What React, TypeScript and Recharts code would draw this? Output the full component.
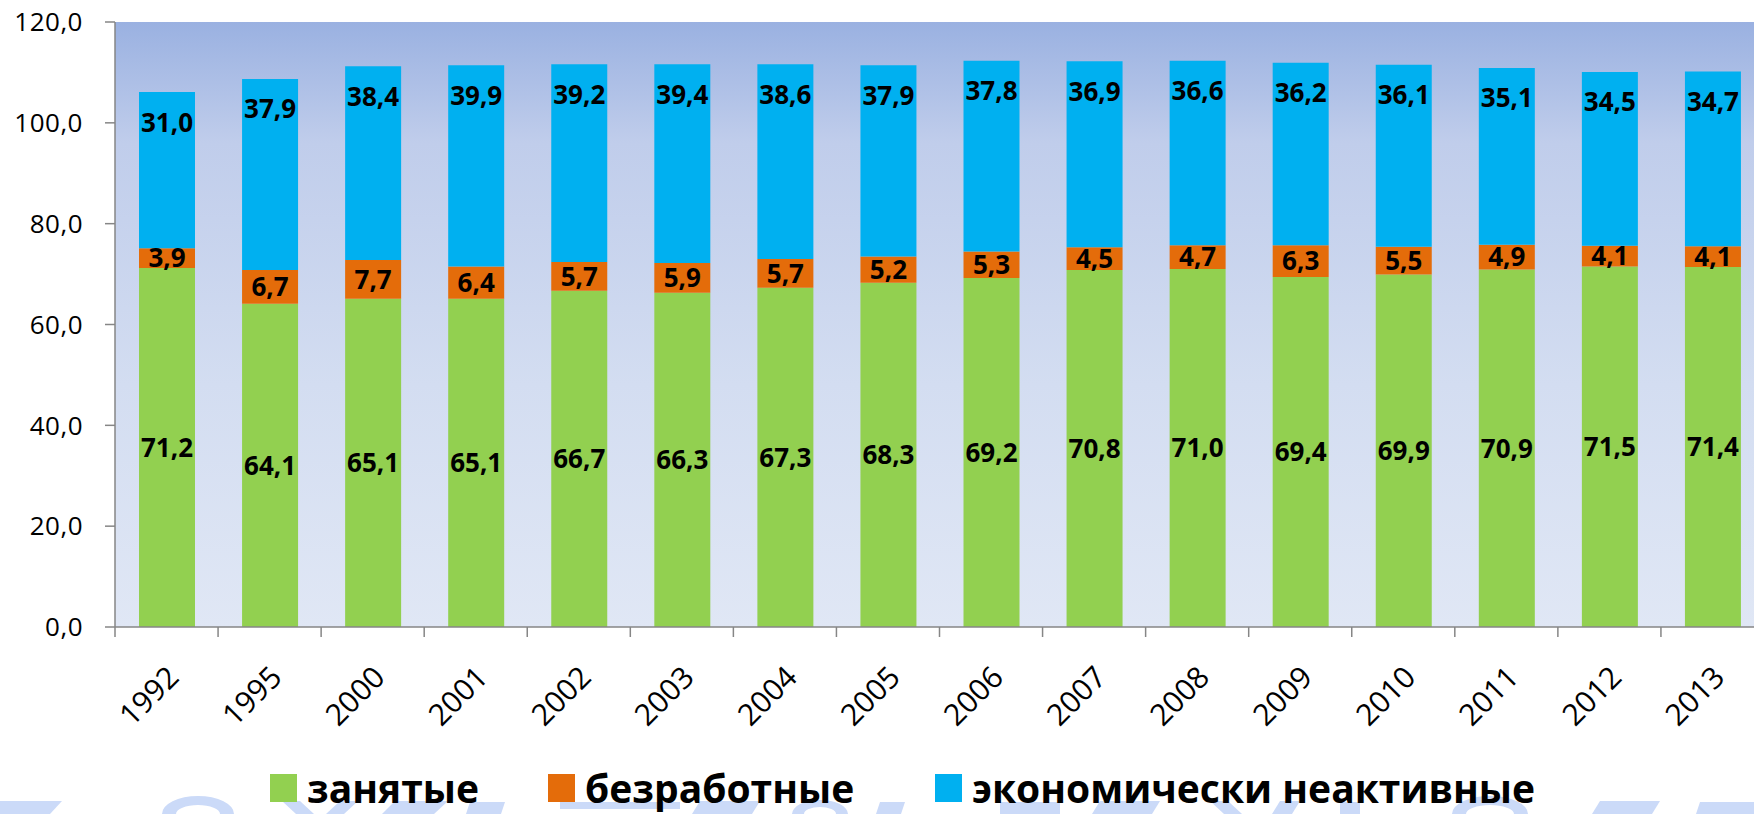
import React from 'react';
import { BarChart, Bar, XAxis, YAxis, CartesianGrid, LabelList, Legend } from 'recharts';

const years = ['1992', '1995', '2000', '2001', '2002', '2003', '2004', '2005', '2006', '2007', '2008', '2009', '2010', '2011', '2012', '2013'];
const employed = [71.2, 64.1, 65.1, 65.1, 66.7, 66.3, 67.3, 68.3, 69.2, 70.8, 71.0, 69.4, 69.9, 70.9, 71.5, 71.4];
const unemployed = [3.9, 6.7, 7.7, 6.4, 5.7, 5.9, 5.7, 5.2, 5.3, 4.5, 4.7, 6.3, 5.5, 4.9, 4.1, 4.1];
const inactive = [31.0, 37.9, 38.4, 39.9, 39.2, 39.4, 38.6, 37.9, 37.8, 36.9, 36.6, 36.2, 36.1, 35.1, 34.5, 34.7];
const yTicks = [0, 20, 40, 60, 80, 100, 120];
const seriesNames = ['занятые', 'безработные', 'экономически неактивные'];
const seriesColors = ['#92d050', '#e46c0a', '#00b0f0'];

const data = years.map((y, i) => ({ year: y, employed: employed[i], unemployed: unemployed[i], inactive: inactive[i] }));

const fmt = (v: any) => Number(v).toFixed(1).replace('.', ',');
const FONT = '"Open Sans", "Noto Sans", sans-serif';

const XTick = (props: any) => {
  const { x, y, payload } = props;
  const half = payload && typeof payload.offset === 'number' && payload.offset > 0 ? payload.offset : 51.5;
  const tx = x + 14;
  const ty = y + 52;
  return (
    <g>
      <line x1={x - half} y1={y} x2={x - half} y2={y + 10} stroke="#868686" strokeWidth={1.5} />
      <text
        x={tx}
        y={ty}
        transform={`rotate(-45 ${tx} ${ty})`}
        textAnchor="end"
        fontFamily={FONT}
        fontSize={30}
        fill="#000"
      >
        {payload.value}
      </text>
    </g>
  );
};

const LegendContent = () => (
  <div style={{ position: 'relative', height: 50, fontFamily: FONT }}>
    {seriesNames.map((n, i) => {
      const lefts = [270, 548, 935];
      return (
        <div key={n} style={{ position: 'absolute', left: lefts[i], top: 0, display: 'flex', alignItems: 'center', height: 48 }}>
          <div style={{ width: 27, height: 28, background: seriesColors[i], marginRight: 10 }} />
          <span style={{ fontSize: 39, fontWeight: 700, color: '#000', lineHeight: '48px', whiteSpace: 'nowrap' }}>{n}</span>
        </div>
      );
    })}
  </div>
);

const Watermark = () => (
  <svg width={1754} height={814} style={{ position: 'absolute', left: 0, top: 0, pointerEvents: 'none' }}>
    <g fill="#cbdaf8" stroke="none">
      <polygon points="0,801 62,801 50,814 0,814" />
      <path d="M162,814 A36,18 0 0 1 234,814 L220,814 A22,9 0 0 0 176,814 Z" />
      <polygon points="282,801 300,801 314,814 296,814" />
      <polygon points="340,801 358,801 344,814 326,814" />
      <polygon points="395,801 448,801 434,814 382,814" />
      <polygon points="470,802 505,802 501,814 466,814" />
      <rect x={560} y={802} width={120} height={7} />
      <polygon points="700,801 760,801 752,814 692,814" />
      <path d="M792,814 A28,14 0 0 1 848,814 L836,814 A16,7 0 0 0 804,814 Z" />
      <polygon points="880,802 905,802 901,814 876,814" />
      <rect x={1000} y={802} width={60} height={12} />
      <polygon points="1100,801 1160,801 1152,814 1092,814" />
      <polygon points="1210,801 1228,801 1242,814 1224,814" />
      <polygon points="1280,801 1300,801 1292,814 1272,814" />
      <rect x={1340} y={802} width={20} height={12} />
      <path d="M1452,814 A38,18 0 0 1 1528,814 L1514,814 A24,9 0 0 0 1466,814 Z" />
      <polygon points="1600,801 1660,801 1652,814 1592,814" />
      <polygon points="1700,802 1754,802 1754,814 1696,814" />
    </g>
  </svg>
);

export default function App() {
  return (
    <div style={{ position: 'fixed', left: 0, top: 0, width: 1754, height: 814, overflow: 'hidden', background: '#fff' }}>
      <Watermark />
      <div style={{ position: 'absolute', left: 0, top: 0 }}>
        <BarChart
          width={1780}
          height={814}
          data={data}
          margin={{ top: 22, right: 16, left: 0, bottom: 0 }}
          barSize={56}
        >
          <defs>
            <linearGradient id="plotBg" x1="0" y1="0" x2="0" y2="1">
              <stop offset="0%" stopColor="#9ab1e1" />
              <stop offset="20%" stopColor="#c0cdeb" />
              <stop offset="60%" stopColor="#d3ddf1" />
              <stop offset="100%" stopColor="#e0e7f5" />
            </linearGradient>
          </defs>
          <CartesianGrid horizontal={false} vertical={false} fill="url(#plotBg)" stroke="none" />
          <XAxis
            dataKey="year"
            interval={0}
            height={137}
            tickLine={false}
            tickSize={0}
            tickMargin={0}
            axisLine={{ stroke: '#868686', strokeWidth: 1.5 }}
            tick={<XTick />}
          />
          <YAxis
            width={115}
            domain={[0, 120]}
            ticks={yTicks}
            interval={0}
            tickFormatter={fmt}
            tickSize={10}
            tickMargin={22}
            axisLine={{ stroke: '#868686', strokeWidth: 1.5 }}
            tickLine={{ stroke: '#868686', strokeWidth: 1.5 }}
            tick={{ fill: '#000', fontSize: 26, fontFamily: FONT, letterSpacing: 0.5 }}
          />
          <Legend verticalAlign="bottom" height={50} content={<LegendContent />} wrapperStyle={{ left: 0, width: 1754 }} />
          <Bar dataKey="employed" name={seriesNames[0]} stackId="a" fill={seriesColors[0]} isAnimationActive={false}>
            <LabelList dataKey="employed" position="center" formatter={fmt} fill="#000" fontSize={26} fontWeight={700} fontFamily={FONT} />
          </Bar>
          <Bar dataKey="unemployed" name={seriesNames[1]} stackId="a" fill={seriesColors[1]} isAnimationActive={false}>
            <LabelList dataKey="unemployed" position="center" formatter={fmt} fill="#000" fontSize={26} fontWeight={700} fontFamily={FONT} />
          </Bar>
          <Bar dataKey="inactive" name={seriesNames[2]} stackId="a" fill={seriesColors[2]} isAnimationActive={false}>
            <LabelList dataKey="inactive" position="insideTop" offset={21} formatter={fmt} fill="#000" fontSize={26} fontWeight={700} fontFamily={FONT} />
          </Bar>
        </BarChart>
      </div>
    </div>
  );
}
